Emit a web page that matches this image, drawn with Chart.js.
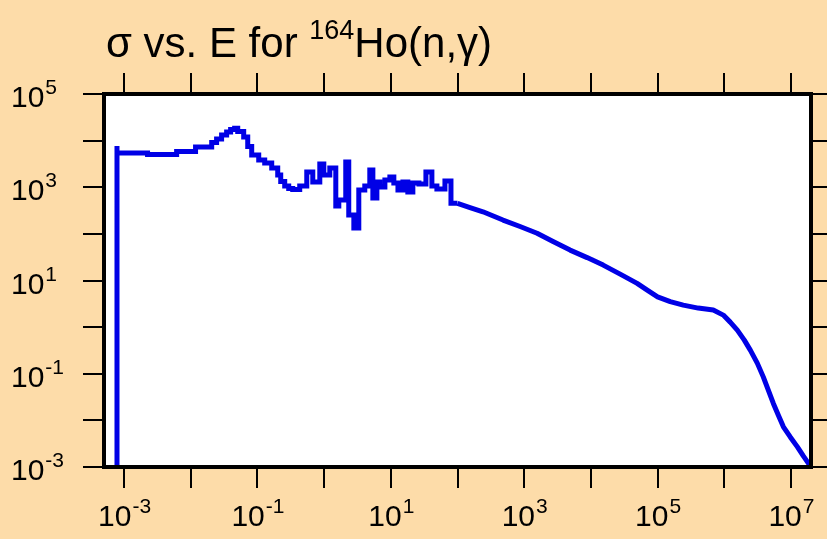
<!DOCTYPE html>
<html><head><meta charset="utf-8">
<script src="https://cdn.jsdelivr.net/npm/chart.js@4/dist/chart.umd.min.js"></script>
<style>html,body{margin:0;padding:0;background:#FDDCA9;}#wrap{width:827px;height:539px;position:relative}</style>
</head><body><div id="wrap"><canvas id="c" width="827" height="539"></canvas></div>
<script>
const titleMain1 = "σ vs. E for ";
const titleSup = "164";
const titleMain2 = "Ho(n,γ)";

// resolved-resonance region (histogram, eV / barns)
const energyResolved = [7.83e-4, 7.83e-4, 2.25e-3, 6.14e-3, 1.18e-2, 2.06e-2, 2.44e-2, 2.90e-2, 3.45e-2, 3.96e-2, 4.55e-2, 5.06e-2, 6.22e-2, 7.15e-2, 8.20e-2, 0.1045, 0.1285, 0.1637, 0.2014, 0.2234, 0.2564, 0.2944, 0.338, 0.4305, 0.549, 0.676, 0.861, 0.989, 1.216, 1.496, 1.66, 2.11, 2.34, 2.79, 3.31, 4.07, 4.84, 5.38, 6.18, 6.85, 8.15, 9.68, 11.1, 12.8, 15.2, 18.0, 21.4, 26.4, 33.6, 41.3, 49.1, 64.8, 79.8, 100];
const sigmaResolved = [1e-3, 7660, 5420, 5030, 5840, 7290, 9100, 10800, 13200, 15300, 17300, 18400, 15700, 11900, 7470, 4910, 3840, 3300, 2580, 1830, 1330, 1060, 938, 893, 1060, 2120, 1290, 3150, 1830, 2580, 395, 531, 3470, 253, 133, 871, 1060, 2340, 586, 1290, 1010, 1430, 1660, 1230, 871, 1290, 789, 1230, 1170, 2120, 1060, 915, 1360, 452];

// smooth region (eV / barns)
const energySmooth = [100, 154, 241, 481, 867, 1560, 2710, 4880, 8790, 15300, 27500, 49400, 70000, 1e5, 1.55e5, 2.43e5, 4.07e5, 6.85e5, 9.68e5, 1.23e6, 1.57e6, 2.00e6, 2.46e6, 3.13e6, 3.85e6, 4.58e6, 5.45e6, 6.48e6, 7.71e6, 9.82e6, 1.25e7, 1.54e7, 2e7];
const sigmaSmooth = [452, 367, 298, 198, 144, 103, 68.4, 44.9, 31.0, 21.4, 13.7, 8.67, 6.22, 4.47, 3.52, 2.97, 2.56, 2.32, 1.81, 1.28, 0.863, 0.526, 0.321, 0.169, 0.0857, 0.0445, 0.0231, 0.0129, 0.00726, 0.00436, 0.00270, 0.00171, 0.001];

const xMin = 5e-4, xMax = 2e7, yMin = 1e-3, yMax = 1e5;
const xTickExps = [-3, -2, -1, 0, 1, 2, 3, 4, 5, 6, 7];
const xLabelExps = [-3, -1, 1, 3, 5, 7];
const yTickExps = [-3, -2, -1, 0, 1, 2, 3, 4, 5];
const yLabelExps = [-3, -1, 1, 3, 5];

const BG = '#FDDCA9';
const FONT = '"Liberation Sans", Arial, Helvetica, sans-serif';
const LINE = '#0000E6';

function toPts(xs, ys) { return xs.map((x, i) => ({x: x, y: ys[i]})); }

function drawPow(ctx, x, baseY, exp, align) {
  const base = '10', sup = String(exp);
  ctx.font = '30px ' + FONT;
  const wb = ctx.measureText(base).width;
  ctx.font = '21px ' + FONT;
  const ws = ctx.measureText(sup).width;
  let sx = align === 'center' ? x - (wb + ws) / 2 : x;
  ctx.textAlign = 'left';
  ctx.textBaseline = 'alphabetic';
  ctx.font = '30px ' + FONT;
  ctx.fillText(base, sx, baseY);
  ctx.font = '21px ' + FONT;
  ctx.fillText(sup, sx + wb + 1, baseY - 13);
}

const decor = {
  id: 'decor',
  beforeDraw(chart) {
    const {ctx, chartArea: a} = chart;
    ctx.save();
    ctx.fillStyle = BG;
    ctx.fillRect(0, 0, chart.width, chart.height);
    ctx.fillStyle = '#FFFFFF';
    ctx.fillRect(a.left, a.top, a.right - a.left, a.bottom - a.top);
    ctx.restore();
  },
  afterDraw(chart) {
    const {ctx, chartArea: a, scales} = chart;
    const xs = scales.x, ys = scales.y;
    ctx.save();
    ctx.strokeStyle = '#000';
    ctx.fillStyle = '#000';
    // ticks (outward, all four sides)
    ctx.lineWidth = 2;
    ctx.beginPath();
    xTickExps.forEach(e => {
      const px = Math.round(xs.getPixelForValue(Math.pow(10, e)));
      ctx.moveTo(px, a.top - 2); ctx.lineTo(px, a.top - 21);
      ctx.moveTo(px, a.bottom + 2); ctx.lineTo(px, a.bottom + 21);
    });
    yTickExps.forEach(e => {
      const py = Math.round(ys.getPixelForValue(Math.pow(10, e)));
      ctx.moveTo(a.left - 2, py); ctx.lineTo(a.left - 21, py);
      ctx.moveTo(a.right + 2, py); ctx.lineTo(a.right + 21, py);
    });
    ctx.stroke();
    // frame
    ctx.lineWidth = 4;
    ctx.strokeRect(a.left, a.top, a.right - a.left, a.bottom - a.top);
    // tick labels
    xLabelExps.forEach(e => {
      const px = xs.getPixelForValue(Math.pow(10, e));
      drawPow(ctx, px, 526, e, 'center');
    });
    yLabelExps.forEach(e => {
      const py = ys.getPixelForValue(Math.pow(10, e));
      drawPow(ctx, 11, py + 13, e, 'left');
    });
    // title
    ctx.textAlign = 'left';
    ctx.textBaseline = 'alphabetic';
    ctx.font = '42px ' + FONT;
    let tx = 106;
    ctx.fillText(titleMain1, tx, 57);
    tx += ctx.measureText(titleMain1).width;
    ctx.font = '27px ' + FONT;
    ctx.fillText(titleSup, tx, 39);
    tx += ctx.measureText(titleSup).width;
    ctx.font = '42px ' + FONT;
    ctx.fillText(titleMain2, tx, 57);
    ctx.restore();
  }
};

new Chart(document.getElementById('c'), {
  type: 'line',
  data: {
    datasets: [
      { label: 'resolved', data: toPts(energyResolved, sigmaResolved), stepped: 'after',
        borderColor: LINE, borderWidth: 5, pointRadius: 0, fill: false, borderJoinStyle: 'miter' },
      { label: 'smooth', data: toPts(energySmooth, sigmaSmooth), stepped: false, tension: 0,
        borderColor: LINE, borderWidth: 5, pointRadius: 0, fill: false, borderJoinStyle: 'round' }
    ]
  },
  options: {
    responsive: false, animation: false, devicePixelRatio: 1,
    parsing: true,
    layout: { padding: { left: 104, top: 94, right: 16, bottom: 72 } },
    plugins: { legend: { display: false }, tooltip: { enabled: false }, title: { display: false } },
    scales: {
      x: { type: 'logarithmic', min: xMin, max: xMax, display: false },
      y: { type: 'logarithmic', min: yMin, max: yMax, display: false }
    }
  },
  plugins: [decor]
});
</script></body></html>
